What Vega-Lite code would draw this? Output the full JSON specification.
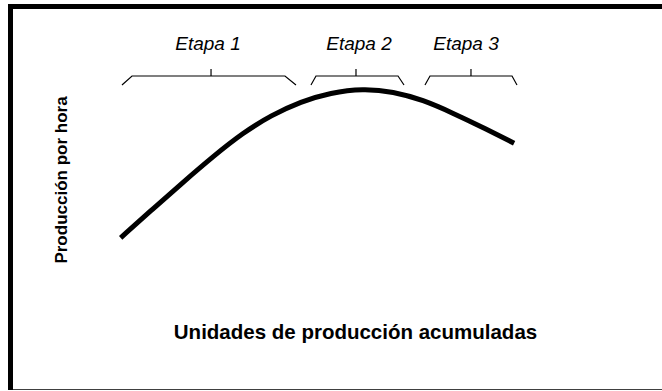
{
  "$schema": "https://vega.github.io/schema/vega-lite/v6.json",
  "width": 671.5,
  "height": 383,
  "autosize": {"type": "none"},
  "padding": {"left": 10.5, "top": 6.5, "right": -20, "bottom": 0},
  "background": "white",
  "view": {"stroke": null},
  "config": {
    "font": "Liberation Sans",
    "axis": {"labels": false, "ticks": false, "grid": false, "domainColor": "black"}
  },
  "resolve": {"axis": {"x": "independent", "y": "independent"}},
  "datasets": {
    "curva": [
      {"unidades": 16.91, "produccion": 39.6},
      {"unidades": 21.89, "produccion": 47.2},
      {"unidades": 26.54, "produccion": 54.2},
      {"unidades": 31.2, "produccion": 61.0},
      {"unidades": 35.66, "produccion": 67.0},
      {"unidades": 40.02, "produccion": 71.6},
      {"unidades": 44.57, "produccion": 75.2},
      {"unidades": 49.13, "produccion": 77.5},
      {"unidades": 54.09, "produccion": 78.6},
      {"unidades": 58.76, "produccion": 77.8},
      {"unidades": 63.32, "produccion": 75.6},
      {"unidades": 67.87, "produccion": 72.2},
      {"unidades": 72.43, "produccion": 68.5},
      {"unidades": 77.3, "produccion": 64.3}
    ],
    "llaves": [
      {"etapa": "Etapa 1", "orden": 1, "x": 17.11, "y": 79.5},
      {"etapa": "Etapa 1", "orden": 2, "x": 18.65, "y": 81.85},
      {"etapa": "Etapa 1", "orden": 3, "x": 42.13, "y": 81.85},
      {"etapa": "Etapa 1", "orden": 4, "x": 43.82, "y": 79.5},
      {"etapa": "Etapa 2", "orden": 1, "x": 46.12, "y": 79.5},
      {"etapa": "Etapa 2", "orden": 2, "x": 46.89, "y": 81.85},
      {"etapa": "Etapa 2", "orden": 3, "x": 59.48, "y": 81.85},
      {"etapa": "Etapa 2", "orden": 4, "x": 60.4, "y": 79.5},
      {"etapa": "Etapa 3", "orden": 1, "x": 63.62, "y": 79.5},
      {"etapa": "Etapa 3", "orden": 2, "x": 64.39, "y": 81.85},
      {"etapa": "Etapa 3", "orden": 3, "x": 76.98, "y": 81.85},
      {"etapa": "Etapa 3", "orden": 4, "x": 77.74, "y": 79.5}
    ],
    "marcas": [
      {"etapa": "Etapa 1", "x": 30.78, "y1": 81.85, "y2": 83.68, "xtexto": 30.31, "ytexto": 88.7},
      {"etapa": "Etapa 2", "x": 53.03, "y1": 81.85, "y2": 83.68, "xtexto": 53.49, "ytexto": 88.7},
      {"etapa": "Etapa 3", "x": 70.68, "y1": 81.85, "y2": 83.68, "xtexto": 69.91, "ytexto": 88.7}
    ],
    "marco_sup": [{"borde": 100}],
    "marco_izq": [{"borde": 0}]
  },
  "layer": [
    {
      "data": {"name": "curva"},
      "mark": {"type": "line", "color": "black", "strokeWidth": 5, "interpolate": "basis", "strokeCap": "butt"},
      "encoding": {
        "x": {"field": "unidades", "type": "quantitative", "scale": {"domain": [0, 103.07], "nice": false, "zero": false},
          "axis": {"orient": "bottom", "title": "Unidades de producción acumuladas", "domainWidth": 1.5,
            "titleFontSize": 20.5, "titleFontWeight": "bold", "titleColor": "black",
            "titleX": 344.5, "titleY": -51, "titleBaseline": "alphabetic", "titleAlign": "center", "titleAnchor": null}},
        "y": {"field": "produccion", "type": "quantitative", "scale": {"domain": [0, 100], "nice": false, "zero": false},
          "axis": {"orient": "left", "title": "Producción por hora", "domain": false,
            "titleFontSize": 17, "titleFontWeight": "bold", "titleColor": "black",
            "titleAngle": -90, "titleX": 56, "titleY": 173, "titleBaseline": "alphabetic", "titleAlign": "center", "titleAnchor": null}}
      }
    },
    {
      "data": {"name": "marco_sup"},
      "mark": {"type": "rule", "color": "black", "strokeWidth": 5, "strokeCap": "square"},
      "encoding": {
        "y": {"field": "borde", "type": "quantitative", "axis": null}
      }
    },
    {
      "data": {"name": "marco_izq"},
      "mark": {"type": "rule", "color": "black", "strokeWidth": 5, "strokeCap": "square"},
      "encoding": {
        "x": {"field": "borde", "type": "quantitative", "axis": null}
      }
    },
    {
      "data": {"name": "llaves"},
      "mark": {"type": "line", "color": "black", "strokeWidth": 1.2},
      "encoding": {
        "x": {"field": "x", "type": "quantitative", "axis": null},
        "y": {"field": "y", "type": "quantitative", "axis": null},
        "detail": {"field": "etapa"},
        "order": {"field": "orden"}
      }
    },
    {
      "data": {"name": "marcas"},
      "mark": {"type": "rule", "color": "black", "strokeWidth": 1.2},
      "encoding": {
        "x": {"field": "x", "type": "quantitative", "axis": null},
        "y": {"field": "y1", "type": "quantitative", "axis": null},
        "y2": {"field": "y2"}
      }
    },
    {
      "data": {"name": "marcas"},
      "mark": {"type": "text", "fontSize": 19, "fontStyle": "italic", "color": "black", "baseline": "alphabetic", "align": "center"},
      "encoding": {
        "x": {"field": "xtexto", "type": "quantitative", "axis": null},
        "y": {"field": "ytexto", "type": "quantitative", "axis": null},
        "text": {"field": "etapa"}
      }
    }
  ]
}
